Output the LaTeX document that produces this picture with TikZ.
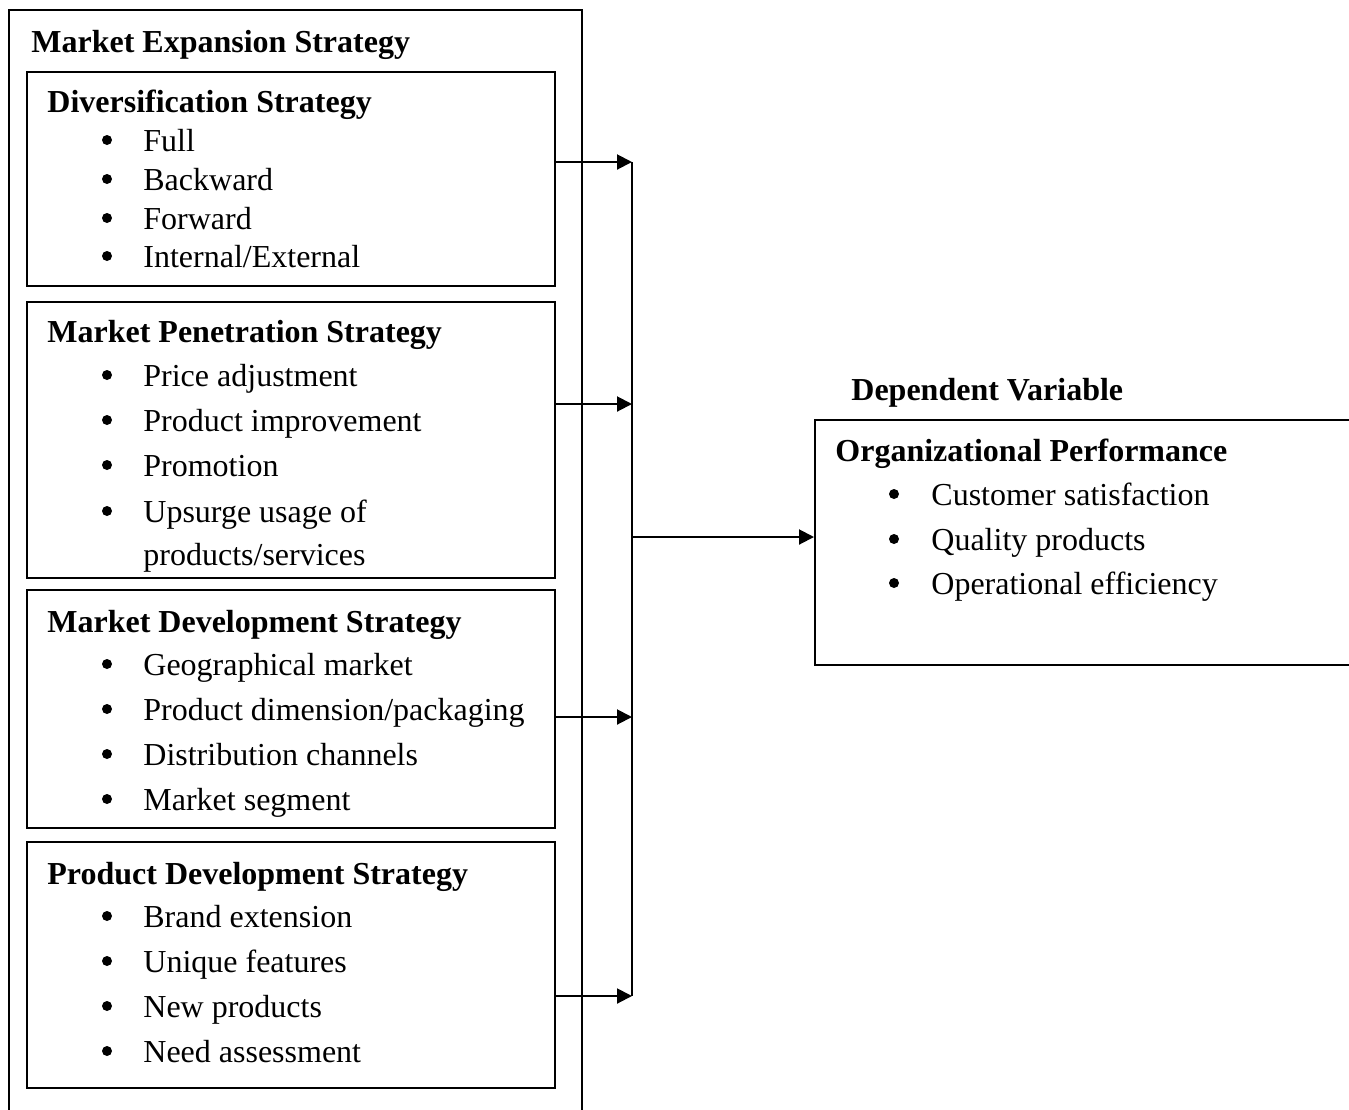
\documentclass[tikz,border=0pt]{standalone}
\usepackage{fontspec}
\setmainfont{Liberation Serif}
\usetikzlibrary{arrows.meta}
\tikzset{
  x=0.5pt, y=-0.5pt,
  every node/.style={font=\fontsize{16}{19}\selectfont},
  boxframe/.style={draw, line width=1pt, inner sep=0pt, rectangle},
  txt/.style={anchor=base west, inner sep=0pt},
  ttl/.style={anchor=base west, inner sep=0pt, font=\fontsize{16}{19}\selectfont\bfseries},
  bul/.style={circle, fill, inner sep=0pt, minimum size=5pt, yshift=5.5pt},
  conn/.style={line width=1pt, -{Triangle[length=7.5pt,width=7.5pt]}},
  busline/.style={line width=1pt}
}
\begin{document}
\begin{tikzpicture}
\useasboundingbox (0,0) rectangle (1349,1109);
% outer frame (open at bottom, beyond page)
\node[boxframe, minimum width=286.5pt, minimum height=555pt] (outer) at (295.5,565) {};
\node[ttl] (outerT) at (31,52) {Market Expansion Strategy};

% Box 1
\node[boxframe, minimum width=264pt, minimum height=107pt] (div) at (291,179) {};
\node[ttl] (divT) at (47,112) {Diversification Strategy};
\node[bul] (divb1) at (107,151) {}; \node[txt] (divi1) at (143,151) {Full};
\node[bul] (divb2) at (107,190) {}; \node[txt] (divi2) at (143,190) {Backward};
\node[bul] (divb3) at (107,229) {}; \node[txt] (divi3) at (143,229) {Forward};
\node[bul] (divb4) at (107,267) {}; \node[txt] (divi4) at (143,267) {Internal/External};

% Box 2
\node[boxframe, minimum width=264pt, minimum height=138pt] (pen) at (291,440) {};
\node[ttl] (penT) at (47,342) {Market Penetration Strategy};
\node[bul] (penb1) at (107,386) {}; \node[txt] (peni1) at (143,386) {Price adjustment};
\node[bul] (penb2) at (107,431) {}; \node[txt] (peni2) at (143,431) {Product improvement};
\node[bul] (penb3) at (107,476) {}; \node[txt] (peni3) at (143,476) {Promotion};
\node[bul] (penb4) at (107,522) {}; \node[txt] (peni4) at (143,522) {Upsurge usage of};
\node[txt] (peni5) at (143,565) {products/services};

% Box 3
\node[boxframe, minimum width=264pt, minimum height=119pt] (mdev) at (291,709) {};
\node[ttl] (mdevT) at (47,632) {Market Development Strategy};
\node[bul] (mdevb1) at (107,675) {}; \node[txt] (mdevi1) at (143,675) {Geographical market};
\node[bul] (mdevb2) at (107,720) {}; \node[txt] (mdevi2) at (143,720) {Product dimension/packaging};
\node[bul] (mdevb3) at (107,765) {}; \node[txt] (mdevi3) at (143,765) {Distribution channels};
\node[bul] (mdevb4) at (107,810) {}; \node[txt] (mdevi4) at (143,810) {Market segment};

% Box 4
\node[boxframe, minimum width=264pt, minimum height=123pt] (pdev) at (291,965) {};
\node[ttl] (pdevT) at (47,884) {Product Development Strategy};
\node[bul] (pdevb1) at (107,927) {}; \node[txt] (pdevi1) at (143,927) {Brand extension};
\node[bul] (pdevb2) at (107,972) {}; \node[txt] (pdevi2) at (143,972) {Unique features};
\node[bul] (pdevb3) at (107,1017) {}; \node[txt] (pdevi3) at (143,1017) {New products};
\node[bul] (pdevb4) at (107,1062) {}; \node[txt] (pdevi4) at (143,1062) {Need assessment};

% Dependent variable
\node[ttl] (depT) at (851,400) {Dependent Variable};
\node[boxframe, minimum width=268.5pt, minimum height=122.5pt] (org) at (1083.5,542.5) {};
\node[ttl] (orgT) at (835,461) {Organizational Performance};
\node[bul] (orgb1) at (894,505) {}; \node[txt] (orgi1) at (931,505) {Customer satisfaction};
\node[bul] (orgb2) at (894,550) {}; \node[txt] (orgi2) at (931,550) {Quality products};
\node[bul] (orgb3) at (894,594) {}; \node[txt] (orgi3) at (931,594) {Operational efficiency};

% connectors
\coordinate (j1) at (632,162);
\coordinate (j2) at (632,404);
\coordinate (j3) at (632,717);
\coordinate (j4) at (632,996);
\coordinate (jm) at (632,537);
\draw[busline] (j1) -- (j4);
\draw[conn] (div.east |- j1) -- (j1);
\draw[conn] (pen.east |- j2) -- (j2);
\draw[conn] (mdev.east |- j3) -- (j3);
\draw[conn] (pdev.east |- j4) -- (j4);
\draw[conn] (jm) -- (org.west |- jm);
\end{tikzpicture}
\end{document}
